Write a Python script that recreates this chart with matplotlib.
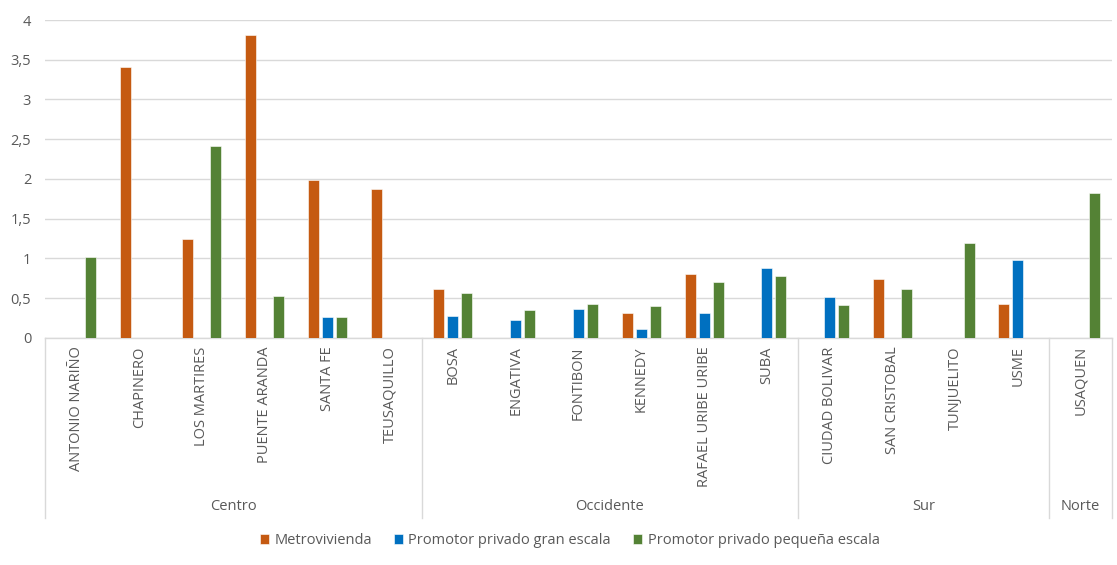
import numpy as np
import matplotlib
matplotlib.use('Agg')
import matplotlib.pyplot as plt
from matplotlib.transforms import blended_transform_factory
from matplotlib.ticker import FuncFormatter

plt.rcParams['font.family'] = ['Open Sans', 'DejaVu Sans']

localidades = ["ANTONIO NARIÑO", "CHAPINERO", "LOS MARTIRES", "PUENTE ARANDA", "SANTA FE",
               "TEUSAQUILLO", "BOSA", "ENGATIVA", "FONTIBON", "KENNEDY", "RAFAEL URIBE URIBE",
               "SUBA", "CIUDAD BOLIVAR", "SAN CRISTOBAL", "TUNJUELITO", "USME", "USAQUEN"]
zonas = ["Centro", "Occidente", "Sur", "Norte"]
zona_sizes = [6, 6, 4, 1]

metrovivienda = [None, 3.41, 1.24, 3.81, 1.99, 1.88, 0.61, None, None, 0.32, 0.81,
                 None, None, 0.74, None, 0.43, None]
gran_escala = [None, None, None, None, 0.27, None, 0.28, 0.22, 0.37, 0.11, 0.32,
               0.88, 0.52, None, None, 0.98, None]
pequena_escala = [1.02, None, 2.41, 0.53, 0.27, None, 0.57, 0.35, 0.43, 0.40, 0.70,
                  0.78, 0.42, 0.61, 1.20, None, 1.82]

series = [("Metrovivienda", metrovivienda, "#C55A11"),
          ("Promotor privado gran escala", gran_escala, "#0070C0"),
          ("Promotor privado pequeña escala", pequena_escala, "#548235")]

fig = plt.figure(figsize=(11.17, 5.65), dpi=100)
ax = fig.add_axes([0.0403, 0.4018, 0.9552, 0.5628])

x = np.arange(len(localidades))
step = 0.223
for i, (name, vals, color) in enumerate(series):
    h = np.array([np.nan if v is None else v for v in vals], dtype=float)
    ax.bar(x + (i - 1) * step, h, width=0.175, color=color, edgecolor='white',
           linewidth=0.4, label=name, zorder=3)

ax.set_xlim(-0.5, len(localidades) - 0.5)
ax.set_ylim(0, 4)
ax.set_yticks(np.arange(0, 4.01, 0.5))
ax.yaxis.set_major_formatter(FuncFormatter(lambda v, p: f"{v:g}".replace('.', ',')))
ax.grid(axis='y', color='#D9D9D9', linewidth=1, zorder=0)
for s in ['top', 'right', 'left']:
    ax.spines[s].set_visible(False)
ax.spines['bottom'].set_color('#D9D9D9')
ax.spines['bottom'].set_linewidth(1)
ax.tick_params(axis='y', length=0, labelsize=10.5, labelcolor='#595959', pad=10)
ax.set_xticks(x)
ax.set_xticklabels(localidades, rotation=90, va='top', ha='center')
ax.tick_params(axis='x', length=0, labelsize=10.5, labelcolor='#595959', pad=6)

# group separators and zone labels under the category labels
trans = blended_transform_factory(ax.transData, ax.transAxes)
edges = np.concatenate([[0], np.cumsum(zona_sizes)]) - 0.5
for e in edges:
    ax.plot([e, e], [0, -0.566], transform=trans, color='#D9D9D9', linewidth=1,
            clip_on=False)
for zona, a, b in zip(zonas, edges[:-1], edges[1:]):
    ax.text((a + b) / 2, -0.531, zona, transform=trans, ha='center', va='center',
            fontsize=10.5, color='#595959')

fig.legend(loc='center', bbox_to_anchor=(0.51, 0.0425), ncol=3, frameon=False,
           fontsize=10.5, handlelength=0.65, handleheight=0.65, handletextpad=0.35,
           columnspacing=1.5, labelcolor='#595959')

fig.savefig('out.png', dpi=100)
